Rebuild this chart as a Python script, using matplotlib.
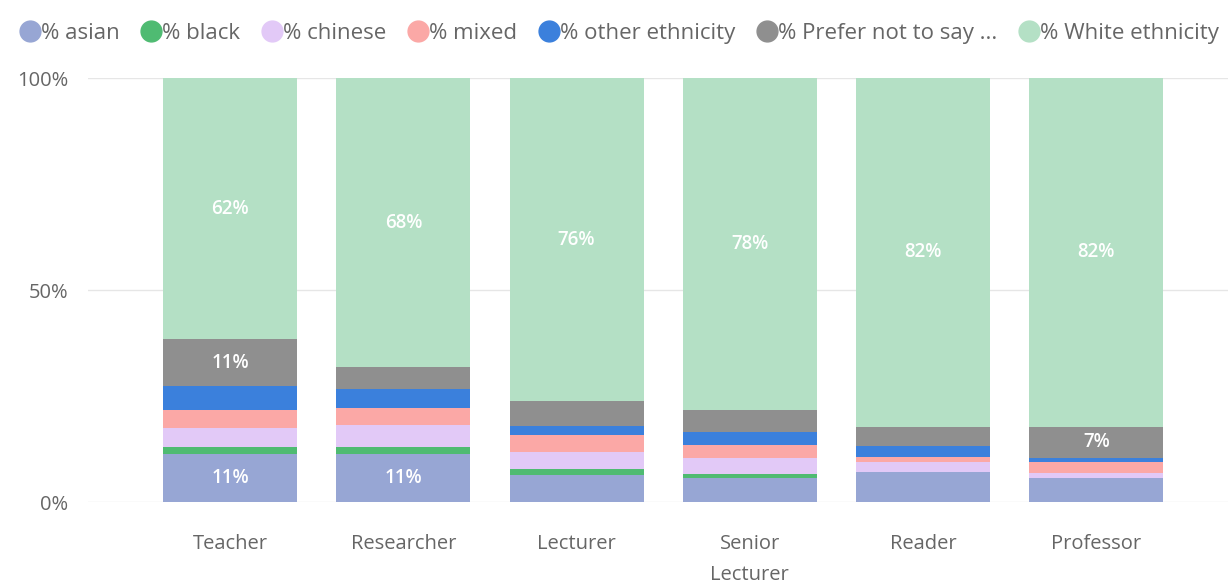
import matplotlib.pyplot as plt
from matplotlib.lines import Line2D

plt.rcParams["font.family"] = ["Open Sans", "DejaVu Sans"]

# staff grades and ethnicity shares (percent of each grade)
grades = ["Teacher", "Researcher", "Lecturer", "Senior\nLecturer", "Reader", "Professor"]
series = ["% asian", "% black", "% chinese", "% mixed", "% other ethnicity",
          "% Prefer not to say ...", "% White ethnicity"]

asian = [11.4, 11.4, 6.4, 5.7, 7.0, 5.7]
black = [1.5, 1.6, 1.4, 0.9, 0.0, 0.0]
chinese = [4.5, 5.1, 4.0, 3.8, 2.4, 1.2]
mixed = [4.2, 4.0, 4.0, 3.1, 1.3, 2.5]
other = [5.8, 4.5, 2.1, 3.1, 2.4, 1.0]
prefer_not = [11.0, 5.2, 5.9, 5.2, 4.7, 7.4]
white = [61.6, 68.2, 76.2, 78.2, 82.2, 82.2]

colors = ["#97a6d4", "#4fbb72", "#e2c9f7", "#fba8a6", "#3b80dc", "#8f8f8f", "#b4e0c5"]
values = [asian, black, chinese, mixed, other, prefer_not, white]

fig = plt.figure(figsize=(12.28, 5.88), dpi=100)
ax = fig.add_axes([88 / 1228, 86 / 588, 1140 / 1228, 424 / 588])

x = list(range(len(grades)))
bottom = [0.0] * len(grades)
for name, vals, col in zip(series, values, colors):
    ax.bar(x, vals, width=0.774, bottom=bottom, color=col, label=name, zorder=2)
    for i, v in enumerate(vals):
        if v >= 7.2:
            ax.text(i, bottom[i] + v / 2, f"{round(v)}%", ha="center", va="center",
                    color="white", fontsize=13.5, fontweight="semibold", zorder=3)
    bottom = [b + v for b, v in zip(bottom, vals)]

ax.set_xlim(-0.82, 5.76)
ax.set_ylim(0, 100)
ax.set_yticks([0, 50, 100])
ax.set_yticklabels(["0%", "50%", "100%"])
ax.set_xticks(x)
ax.set_xticklabels(grades, linespacing=1.75)
ax.tick_params(axis="both", length=0, colors="#666666", labelsize=14.5)
ax.tick_params(axis="y", pad=14)
ax.tick_params(axis="x", pad=23)
for t in ax.get_xticklabels():
    t.set_verticalalignment("top")
ax.grid(axis="y", color="#e6e6e6", linewidth=1, zorder=0)
for s in ax.spines.values():
    s.set_visible(False)

handles = [Line2D([], [], marker="o", linestyle="none", markersize=15,
                  markerfacecolor=c, markeredgecolor=c) for c in colors]
fig.legend(handles, series, loc="upper left", bbox_to_anchor=(-0.004, 0.995), ncol=7,
           frameon=False, fontsize=16, handletextpad=-0.15, columnspacing=0.78,
           handlelength=1.3, labelcolor="#666666")

fig.savefig("out.png", dpi=100)
